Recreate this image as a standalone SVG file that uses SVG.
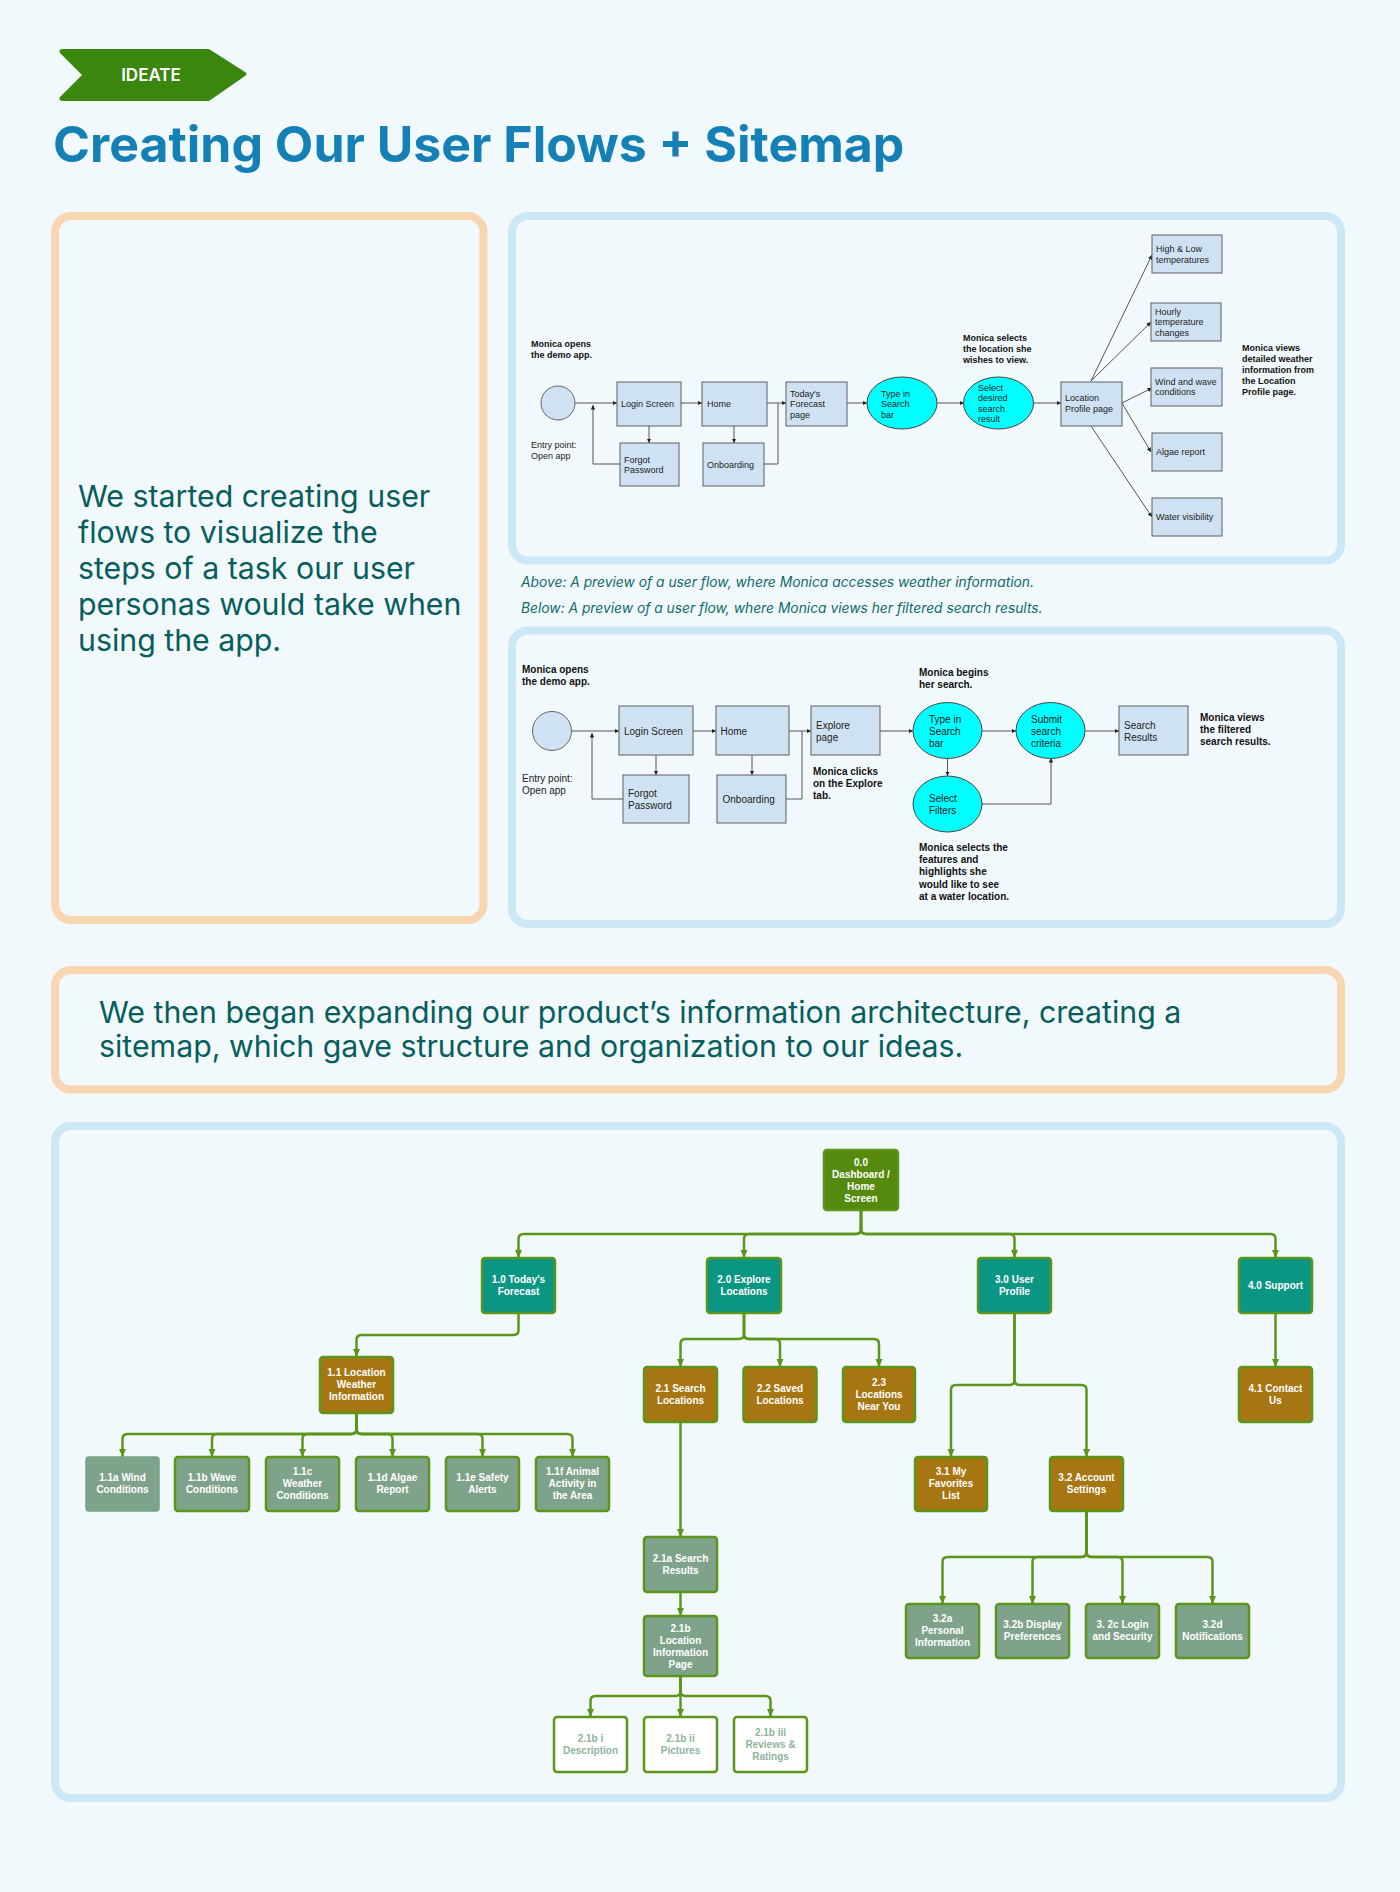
<svg xmlns="http://www.w3.org/2000/svg" width="1400" height="1892" viewBox="0 0 1400 1892">
<style>
.bg{fill:#f2f9fd}
.po{fill:none;stroke:#f8d6b2;stroke-width:8}
.pb{fill:none;stroke:#cce8f7;stroke-width:8}
.body{font-family:Inter,"Liberation Sans",sans-serif;font-size:30.3px;fill:#075e5c}
.cap{font-family:Inter,"Liberation Sans",sans-serif;font-size:13.8px;font-style:italic;fill:#0e6b68}
.fb{fill:#cfe2f3;stroke:#5f5f5f;stroke-width:1}
.fe{fill:#00ffff;stroke:#444;stroke-width:1}
.f1{font-family:"Liberation Sans",Arial,sans-serif;font-size:9px;fill:#222}
.f2{font-family:"Liberation Sans",Arial,sans-serif;font-size:10px;fill:#222}
.b{font-weight:bold;fill:#111}
.fl{fill:none;stroke:#555;stroke-width:1}
.sm{fill:none;stroke:#5b961a;stroke-width:2.5}
.root{fill:#558a0f;stroke:#5b961a;stroke-width:2.5}
.l1{fill:#0b9583;stroke:#5b961a;stroke-width:2.5}
.l2{fill:#a67612;stroke:#5b961a;stroke-width:2.5}
.l3{fill:#7fa38a;stroke:#5b961a;stroke-width:2.5}
.l4{fill:#ffffff;stroke:#5b961a;stroke-width:2.5}
.st{font-family:"Liberation Sans",Arial,sans-serif;font-size:10px;font-weight:bold;fill:#ffffff;text-anchor:middle}
.st4{font-family:"Liberation Sans",Arial,sans-serif;font-size:10px;font-weight:bold;fill:#8fb39b;text-anchor:middle}
</style>
<defs>
<marker id="ga" viewBox="0 0 8 8" refX="8" refY="4" markerWidth="8" markerHeight="8" markerUnits="userSpaceOnUse" orient="auto"><path d="M0,0.5 L8,4 L0,7.5 z" fill="#5b961a"/></marker>
<marker id="fa" viewBox="0 0 6 6" refX="6" refY="3" markerWidth="4.5" markerHeight="4.5" markerUnits="userSpaceOnUse" orient="auto"><path d="M0,0 L6,3 L0,6 z" fill="#222"/></marker>
</defs>
<rect class="bg" x="0" y="0" width="1400" height="1892"/>

<g id="badge">
<path d="M63,49 H209 L245,72 Q248,74 245,76 L209,101 H63 Q58,101 60,97 L82,75 L60,53 Q58,49 63,49 Z" fill="#3a860f"/>
<text x="151" y="81" font-family="Inter,'Liberation Sans',sans-serif" font-size="17" font-weight="600" fill="#ffffff" text-anchor="middle">IDEATE</text>
</g>
<text id="title" x="53" y="162" font-family="Inter,'Liberation Sans',sans-serif" font-size="50" font-weight="700" fill="#1580b5">Creating Our User Flows + Sitemap</text>

<g id="intro-panel">
<rect class="po" x="55" y="216" width="428.5" height="704" rx="16"/>
<text class="body" x="78"><tspan x="78" y="507">We started creating user</tspan><tspan x="78" y="543">flows to visualize the</tspan><tspan x="78" y="579">steps of a task our user</tspan><tspan x="78" y="615">personas would take when</tspan><tspan x="78" y="651">using the app.</tspan></text>
</g>

<g id="flow1">
<rect class="pb" x="512" y="216" width="829" height="344.5" rx="16"/>
<g id="f1-connectors">
<path class="fl" d="M575,403 H617" marker-end="url(#fa)"/>
<path class="fl" d="M681,403 H702" marker-end="url(#fa)"/>
<path class="fl" d="M767,403 H786" marker-end="url(#fa)"/>
<path class="fl" d="M764,464 H778 V403"/>
<path class="fl" d="M649,426 V443" marker-end="url(#fa)"/>
<path class="fl" d="M734,426 V443" marker-end="url(#fa)"/>
<path class="fl" d="M620,464 H593 V405" marker-end="url(#fa)"/>
<path class="fl" d="M847,403 H867" marker-end="url(#fa)"/>
<path class="fl" d="M937,403 H964" marker-end="url(#fa)"/>
<path class="fl" d="M1033,403 H1061" marker-end="url(#fa)"/>
<path class="fl" d="M1091,381 L1152,255" marker-end="url(#fa)"/>
<path class="fl" d="M1091,381 L1151,322" marker-end="url(#fa)"/>
<path class="fl" d="M1122,403 L1152,388" marker-end="url(#fa)"/>
<path class="fl" d="M1122,403 L1151,452" marker-end="url(#fa)"/>
<path class="fl" d="M1091,426 L1152,517" marker-end="url(#fa)"/>
</g>
<text class="f1 b"><tspan x="531" y="347">Monica opens</tspan><tspan x="531" y="358">the demo app.</tspan></text>
<text class="f1"><tspan x="531" y="448">Entry point:</tspan><tspan x="531" y="459">Open app</tspan></text>
<g id="f1-start"><circle cx="558" cy="403" r="17" fill="#cfe2f3" stroke="#666" stroke-width="1"/></g>
<g id="f1-login"><rect class="fb" x="617" y="382" width="64" height="44"/><text class="f1" x="621" y="407">Login Screen</text></g>
<g id="f1-home"><rect class="fb" x="702" y="382" width="65" height="44"/><text class="f1" x="707" y="407">Home</text></g>
<g id="f1-forecast"><rect class="fb" x="786" y="382" width="61" height="44"/><text class="f1"><tspan x="790" y="396.5">Today's</tspan><tspan x="790" y="407">Forecast</tspan><tspan x="790" y="417.5">page</tspan></text></g>
<g id="f1-forgot"><rect class="fb" x="620" y="443" width="59" height="43"/><text class="f1"><tspan x="624" y="462.5">Forgot</tspan><tspan x="624" y="473">Password</tspan></text></g>
<g id="f1-onboarding"><rect class="fb" x="703" y="443" width="61" height="43"/><text class="f1" x="707" y="467.5">Onboarding</text></g>
<g id="f1-type"><ellipse class="fe" cx="902" cy="403" rx="35" ry="26"/><text class="f1"><tspan x="881" y="396.5">Type in</tspan><tspan x="881" y="407">Search</tspan><tspan x="881" y="417.5">bar</tspan></text></g>
<g id="f1-select"><ellipse class="fe" cx="998.5" cy="403" rx="35" ry="26"/><text class="f1"><tspan x="978" y="390.5">Select</tspan><tspan x="978" y="401">desired</tspan><tspan x="978" y="411.5">search</tspan><tspan x="978" y="422">result</tspan></text></g>
<text class="f1 b"><tspan x="963" y="341">Monica selects</tspan><tspan x="963" y="352">the location she</tspan><tspan x="963" y="363">wishes to view.</tspan></text>
<g id="f1-location"><rect class="fb" x="1061" y="382" width="61" height="44"/><text class="f1"><tspan x="1065" y="401">Location</tspan><tspan x="1065" y="411.5">Profile page</tspan></text></g>
<g id="f1-highlow"><rect class="fb" x="1152" y="235" width="70" height="38"/><text class="f1"><tspan x="1156" y="252">High &amp; Low</tspan><tspan x="1156" y="262.5">temperatures</tspan></text></g>
<g id="f1-hourly"><rect class="fb" x="1151" y="303" width="70" height="38"/><text class="f1"><tspan x="1155" y="314.5">Hourly</tspan><tspan x="1155" y="325">temperature</tspan><tspan x="1155" y="335.5">changes</tspan></text></g>
<g id="f1-wind"><rect class="fb" x="1151" y="368" width="71" height="38"/><text class="f1"><tspan x="1155" y="384.5">Wind and wave</tspan><tspan x="1155" y="395">conditions</tspan></text></g>
<g id="f1-algae"><rect class="fb" x="1152" y="433" width="70" height="38"/><text class="f1" x="1156" y="455">Algae report</text></g>
<g id="f1-water"><rect class="fb" x="1152" y="498" width="70" height="38"/><text class="f1" x="1156" y="520">Water visibility</text></g>
<text class="f1 b"><tspan x="1242" y="351">Monica views</tspan><tspan x="1242" y="362">detailed weather</tspan><tspan x="1242" y="373">information from</tspan><tspan x="1242" y="384">the Location</tspan><tspan x="1242" y="395">Profile page.</tspan></text>
</g>

<text class="cap" x="521" y="587">Above: A preview of a user flow, where Monica accesses weather information.</text>
<text class="cap" x="521" y="613">Below: A preview of a user flow, where Monica views her filtered search results.</text>

<g id="flow2">
<rect class="pb" x="512" y="630.5" width="829" height="293.5" rx="16"/>
<g id="f2-connectors">
<path class="fl" d="M571,731 H619" marker-end="url(#fa)"/>
<path class="fl" d="M693,731 H716" marker-end="url(#fa)"/>
<path class="fl" d="M789,731 H811" marker-end="url(#fa)"/>
<path class="fl" d="M786,799 H802 V731"/>
<path class="fl" d="M656,755 V775" marker-end="url(#fa)"/>
<path class="fl" d="M752,755 V775" marker-end="url(#fa)"/>
<path class="fl" d="M623,799 H592 V733" marker-end="url(#fa)"/>
<path class="fl" d="M880,731 H913" marker-end="url(#fa)"/>
<path class="fl" d="M982,731 H1016" marker-end="url(#fa)"/>
<path class="fl" d="M1085,731 H1119" marker-end="url(#fa)"/>
<path class="fl" d="M947.5,758 V776" marker-end="url(#fa)"/>
<path class="fl" d="M982,804 H1051 V758" marker-end="url(#fa)"/>
</g>
<text class="f2 b"><tspan x="522" y="673">Monica opens</tspan><tspan x="522" y="685">the demo app.</tspan></text>
<text class="f2"><tspan x="522" y="782">Entry point:</tspan><tspan x="522" y="794">Open app</tspan></text>
<g id="f2-start"><circle cx="552" cy="731" r="19.5" fill="#cfe2f3" stroke="#666" stroke-width="1"/></g>
<g id="f2-login"><rect class="fb" x="619" y="706" width="74" height="49"/><text class="f2" x="624" y="734.5">Login Screen</text></g>
<g id="f2-home"><rect class="fb" x="716" y="706" width="73" height="49"/><text class="f2" x="720.5" y="734.5">Home</text></g>
<g id="f2-explore"><rect class="fb" x="811" y="706" width="69" height="49"/><text class="f2"><tspan x="816" y="728.5">Explore</tspan><tspan x="816" y="740.5">page</tspan></text></g>
<g id="f2-forgot"><rect class="fb" x="623" y="775" width="66" height="48"/><text class="f2"><tspan x="628" y="797">Forgot</tspan><tspan x="628" y="809">Password</tspan></text></g>
<g id="f2-onboarding"><rect class="fb" x="717" y="775" width="69" height="48"/><text class="f2" x="722.5" y="803">Onboarding</text></g>
<text class="f2 b"><tspan x="813" y="775">Monica clicks</tspan><tspan x="813" y="787">on the Explore</tspan><tspan x="813" y="799">tab.</tspan></text>
<text class="f2 b"><tspan x="919" y="676">Monica begins</tspan><tspan x="919" y="688">her search.</tspan></text>
<g id="f2-type"><ellipse class="fe" cx="947.5" cy="730.5" rx="34.5" ry="28"/><text class="f2"><tspan x="929" y="722.5">Type in</tspan><tspan x="929" y="734.5">Search</tspan><tspan x="929" y="746.5">bar</tspan></text></g>
<g id="f2-submit"><ellipse class="fe" cx="1050.5" cy="730.5" rx="34.5" ry="28"/><text class="f2"><tspan x="1031" y="722.5">Submit</tspan><tspan x="1031" y="734.5">search</tspan><tspan x="1031" y="746.5">criteria</tspan></text></g>
<g id="f2-results"><rect class="fb" x="1119" y="706" width="69" height="49"/><text class="f2"><tspan x="1124" y="728.5">Search</tspan><tspan x="1124" y="740.5">Results</tspan></text></g>
<text class="f2 b"><tspan x="1200" y="721">Monica views</tspan><tspan x="1200" y="733">the filtered</tspan><tspan x="1200" y="745">search results.</tspan></text>
<g id="f2-filters"><ellipse class="fe" cx="947.5" cy="804" rx="34.5" ry="28"/><text class="f2"><tspan x="929" y="801.5">Select</tspan><tspan x="929" y="813.5">Filters</tspan></text></g>
<text class="f2 b"><tspan x="919" y="851">Monica selects the</tspan><tspan x="919" y="863">features and</tspan><tspan x="919" y="875">highlights she</tspan><tspan x="919" y="888">would like to see</tspan><tspan x="919" y="900">at a water location.</tspan></text>
</g>

<g id="ia-panel">
<rect class="po" x="55" y="970" width="1286" height="119.5" rx="16"/>
<text class="body"><tspan x="99" y="1023">We then began expanding our product’s information architecture, creating a</tspan><tspan x="99" y="1057">sitemap, which gave structure and organization to our ideas.</tspan></text>
</g>

<rect class="pb" x="55" y="1126" width="1286" height="672" rx="16"/>

<g id="sitemap-connectors">
<path class="sm" marker-end="url(#ga)" d="M861,1210 V1229 Q861,1234 856,1234 H523.5 Q518.5,1234 518.5,1239 V1258"/>
<path class="sm" marker-end="url(#ga)" d="M861,1210 V1229 Q861,1234 856,1234 H749 Q744,1234 744,1239 V1258"/>
<path class="sm" marker-end="url(#ga)" d="M861,1210 V1229 Q861,1234 866,1234 H1009.5 Q1014.5,1234 1014.5,1239 V1258"/>
<path class="sm" marker-end="url(#ga)" d="M861,1210 V1229 Q861,1234 866,1234 H1270.5 Q1275.5,1234 1275.5,1239 V1258"/>
<path class="sm" marker-end="url(#ga)" d="M518.5,1313 V1330 Q518.5,1335 513.5,1335 H361.5 Q356.5,1335 356.5,1340 V1357"/>
<path class="sm" marker-end="url(#ga)" d="M744,1313 V1334 Q744,1339 739,1339 H685.5 Q680.5,1339 680.5,1344 V1367"/>
<path class="sm" marker-end="url(#ga)" d="M744,1313 V1334 Q744,1339 749,1339 H775 Q780,1339 780,1344 V1367"/>
<path class="sm" marker-end="url(#ga)" d="M744,1313 V1334 Q744,1339 749,1339 H874 Q879,1339 879,1344 V1367"/>
<path class="sm" marker-end="url(#ga)" d="M1014.5,1313 V1380 Q1014.5,1385 1009.5,1385 H956 Q951,1385 951,1390 V1457"/>
<path class="sm" marker-end="url(#ga)" d="M1014.5,1313 V1380 Q1014.5,1385 1019.5,1385 H1081.5 Q1086.5,1385 1086.5,1390 V1457"/>
<path class="sm" marker-end="url(#ga)" d="M1275.5,1313 V1367"/>
<path class="sm" marker-end="url(#ga)" d="M356.5,1413 V1429 Q356.5,1434 351.5,1434 H127.5 Q122.5,1434 122.5,1439 V1457"/>
<path class="sm" marker-end="url(#ga)" d="M356.5,1413 V1429 Q356.5,1434 351.5,1434 H217 Q212,1434 212,1439 V1457"/>
<path class="sm" marker-end="url(#ga)" d="M356.5,1413 V1429 Q356.5,1434 351.5,1434 H307.5 Q302.5,1434 302.5,1439 V1457"/>
<path class="sm" marker-end="url(#ga)" d="M356.5,1413 V1429 Q356.5,1434 361.5,1434 H387.5 Q392.5,1434 392.5,1439 V1457"/>
<path class="sm" marker-end="url(#ga)" d="M356.5,1413 V1429 Q356.5,1434 361.5,1434 H477.5 Q482.5,1434 482.5,1439 V1457"/>
<path class="sm" marker-end="url(#ga)" d="M356.5,1413 V1429 Q356.5,1434 361.5,1434 H567.5 Q572.5,1434 572.5,1439 V1457"/>
<path class="sm" marker-end="url(#ga)" d="M680.5,1422 V1537"/>
<path class="sm" marker-end="url(#ga)" d="M680.5,1592 V1616"/>
<path class="sm" marker-end="url(#ga)" d="M680.5,1676 V1691 Q680.5,1696 675.5,1696 H595.5 Q590.5,1696 590.5,1701 V1717"/>
<path class="sm" marker-end="url(#ga)" d="M680.5,1676 V1717"/>
<path class="sm" marker-end="url(#ga)" d="M680.5,1676 V1691 Q680.5,1696 685.5,1696 H765.5 Q770.5,1696 770.5,1701 V1717"/>
<path class="sm" marker-end="url(#ga)" d="M1086.5,1511 V1552 Q1086.5,1557 1081.5,1557 H947.5 Q942.5,1557 942.5,1562 V1604"/>
<path class="sm" marker-end="url(#ga)" d="M1086.5,1511 V1552 Q1086.5,1557 1081.5,1557 H1037.5 Q1032.5,1557 1032.5,1562 V1604"/>
<path class="sm" marker-end="url(#ga)" d="M1086.5,1511 V1552 Q1086.5,1557 1091.5,1557 H1117.5 Q1122.5,1557 1122.5,1562 V1604"/>
<path class="sm" marker-end="url(#ga)" d="M1086.5,1511 V1552 Q1086.5,1557 1091.5,1557 H1207.5 Q1212.5,1557 1212.5,1562 V1604"/>
</g>

<g id="n00"><rect class="root" x="824" y="1150" width="74" height="60" rx="3"/><text class="st"><tspan x="861" y="1165.5">0.0</tspan><tspan x="861" y="1177.5">Dashboard /</tspan><tspan x="861" y="1189.5">Home</tspan><tspan x="861" y="1201.5">Screen</tspan></text></g>
<g id="n10"><rect class="l1" x="482" y="1258" width="73" height="55" rx="3"/><text class="st"><tspan x="518.5" y="1282.5">1.0 Today's</tspan><tspan x="518.5" y="1294.5">Forecast</tspan></text></g>
<g id="n20"><rect class="l1" x="707" y="1258" width="74" height="55" rx="3"/><text class="st"><tspan x="744" y="1282.5">2.0 Explore</tspan><tspan x="744" y="1294.5">Locations</tspan></text></g>
<g id="n30"><rect class="l1" x="978" y="1258" width="73" height="55" rx="3"/><text class="st"><tspan x="1014.5" y="1282.5">3.0 User</tspan><tspan x="1014.5" y="1294.5">Profile</tspan></text></g>
<g id="n40"><rect class="l1" x="1239" y="1258" width="73" height="55" rx="3"/><text class="st" x="1275.5" y="1288.5">4.0 Support</text></g>
<g id="n11"><rect class="l2" x="320" y="1357" width="73" height="56" rx="3"/><text class="st"><tspan x="356.5" y="1376">1.1 Location</tspan><tspan x="356.5" y="1388">Weather</tspan><tspan x="356.5" y="1400">Information</tspan></text></g>
<g id="n21"><rect class="l2" x="644" y="1367" width="73" height="55" rx="3"/><text class="st"><tspan x="680.5" y="1391.5">2.1 Search</tspan><tspan x="680.5" y="1403.5">Locations</tspan></text></g>
<g id="n22"><rect class="l2" x="743.5" y="1367" width="73" height="55" rx="3"/><text class="st"><tspan x="780" y="1391.5">2.2 Saved</tspan><tspan x="780" y="1403.5">Locations</tspan></text></g>
<g id="n23"><rect class="l2" x="843" y="1367" width="72" height="55" rx="3"/><text class="st"><tspan x="879" y="1385.5">2.3</tspan><tspan x="879" y="1397.5">Locations</tspan><tspan x="879" y="1409.5">Near You</tspan></text></g>
<g id="n41"><rect class="l2" x="1239" y="1367" width="73" height="55" rx="3"/><text class="st"><tspan x="1275.5" y="1391.5">4.1 Contact</tspan><tspan x="1275.5" y="1403.5">Us</tspan></text></g>
<g id="n31"><rect class="l2" x="915" y="1457" width="72" height="54" rx="3"/><text class="st"><tspan x="951" y="1475">3.1 My</tspan><tspan x="951" y="1487">Favorites</tspan><tspan x="951" y="1499">List</tspan></text></g>
<g id="n32"><rect class="l2" x="1050" y="1457" width="73" height="54" rx="3"/><text class="st"><tspan x="1086.5" y="1481">3.2 Account</tspan><tspan x="1086.5" y="1493">Settings</tspan></text></g>
<g id="n11a"><rect class="l3" x="86" y="1457" width="73" height="54" rx="3" style="stroke:#79a084;stroke-width:1.5"/><text class="st"><tspan x="122.5" y="1481">1.1a Wind</tspan><tspan x="122.5" y="1493">Conditions</tspan></text></g>
<g id="n11b"><rect class="l3" x="175" y="1457" width="74" height="54" rx="3"/><text class="st"><tspan x="212" y="1481">1.1b Wave</tspan><tspan x="212" y="1493">Conditions</tspan></text></g>
<g id="n11c"><rect class="l3" x="266" y="1457" width="73" height="54" rx="3"/><text class="st"><tspan x="302.5" y="1475">1.1c</tspan><tspan x="302.5" y="1487">Weather</tspan><tspan x="302.5" y="1499">Conditions</tspan></text></g>
<g id="n11d"><rect class="l3" x="356" y="1457" width="73" height="54" rx="3"/><text class="st"><tspan x="392.5" y="1481">1.1d Algae</tspan><tspan x="392.5" y="1493">Report</tspan></text></g>
<g id="n11e"><rect class="l3" x="446" y="1457" width="73" height="54" rx="3"/><text class="st"><tspan x="482.5" y="1481">1.1e Safety</tspan><tspan x="482.5" y="1493">Alerts</tspan></text></g>
<g id="n11f"><rect class="l3" x="536" y="1457" width="73" height="54" rx="3"/><text class="st"><tspan x="572.5" y="1475">1.1f Animal</tspan><tspan x="572.5" y="1487">Activity in</tspan><tspan x="572.5" y="1499">the Area</tspan></text></g>
<g id="n21a"><rect class="l3" x="644" y="1537" width="73" height="55" rx="3"/><text class="st"><tspan x="680.5" y="1561.5">2.1a Search</tspan><tspan x="680.5" y="1573.5">Results</tspan></text></g>
<g id="n21b"><rect class="l3" x="644" y="1616" width="73" height="60" rx="3"/><text class="st"><tspan x="680.5" y="1631.5">2.1b</tspan><tspan x="680.5" y="1643.5">Location</tspan><tspan x="680.5" y="1655.5">Information</tspan><tspan x="680.5" y="1667.5">Page</tspan></text></g>
<g id="n21bi"><rect class="l4" x="554" y="1717" width="73" height="55" rx="3"/><text class="st4"><tspan x="590.5" y="1741.5">2.1b i</tspan><tspan x="590.5" y="1753.5">Description</tspan></text></g>
<g id="n21bii"><rect class="l4" x="644" y="1717" width="73" height="55" rx="3"/><text class="st4"><tspan x="680.5" y="1741.5">2.1b ii</tspan><tspan x="680.5" y="1753.5">Pictures</tspan></text></g>
<g id="n21biii"><rect class="l4" x="734" y="1717" width="73" height="55" rx="3"/><text class="st4"><tspan x="770.5" y="1735.5">2.1b iii</tspan><tspan x="770.5" y="1747.5">Reviews &amp;</tspan><tspan x="770.5" y="1759.5">Ratings</tspan></text></g>
<g id="n32a"><rect class="l3" x="906" y="1604" width="73" height="54" rx="3"/><text class="st"><tspan x="942.5" y="1622">3.2a</tspan><tspan x="942.5" y="1634">Personal</tspan><tspan x="942.5" y="1646">Information</tspan></text></g>
<g id="n32b"><rect class="l3" x="996" y="1604" width="73" height="54" rx="3"/><text class="st"><tspan x="1032.5" y="1628">3.2b Display</tspan><tspan x="1032.5" y="1640">Preferences</tspan></text></g>
<g id="n32c"><rect class="l3" x="1086" y="1604" width="73" height="54" rx="3"/><text class="st"><tspan x="1122.5" y="1628">3. 2c Login</tspan><tspan x="1122.5" y="1640">and Security</tspan></text></g>
<g id="n32d"><rect class="l3" x="1176" y="1604" width="73" height="54" rx="3"/><text class="st"><tspan x="1212.5" y="1628">3.2d</tspan><tspan x="1212.5" y="1640">Notifications</tspan></text></g>
</svg>
